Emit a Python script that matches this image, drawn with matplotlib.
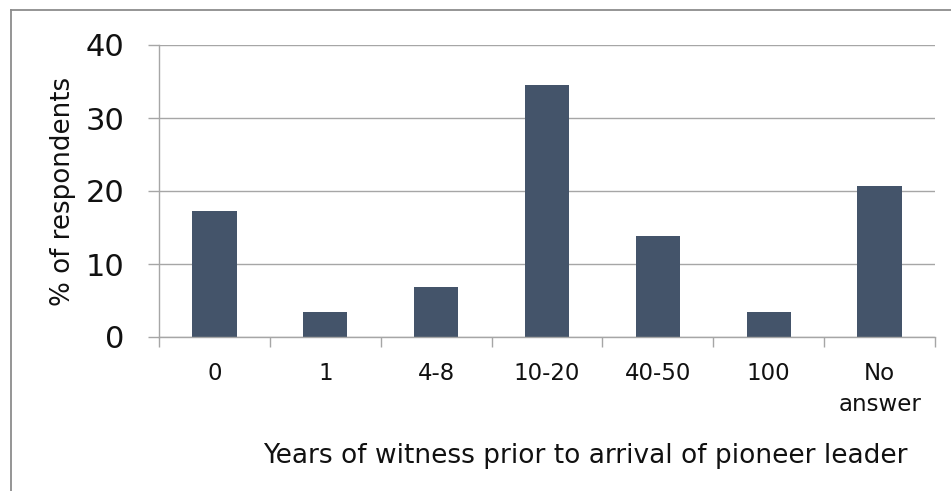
import matplotlib
matplotlib.use("Agg")
import matplotlib.pyplot as plt
from matplotlib.lines import Line2D

categories = ["0", "1", "4-8", "10-20", "40-50", "100", "No\nanswer"]
percent_respondents = [17.24, 3.45, 6.90, 34.48, 13.79, 3.45, 20.69]
y_ticks = [0, 10, 20, 30, 40]

BAR_COLOR = "#44546A"
GRID_COLOR = "#A6A6A6"
TEXT_COLOR = "#111111"

plt.rcParams["font.family"] = ["DejaVu Sans"]

W, H = 951, 491
fig = plt.figure(figsize=(W / 100, H / 100), dpi=100)
fig.patch.set_facecolor("white")

ax = fig.add_axes([159 / W, (H - 337) / H, (935 - 159) / W, 292 / H])
ax.set_facecolor("white")

x = range(len(categories))
ax.bar(x, percent_respondents, width=0.4, color=BAR_COLOR, zorder=3)

ax.set_xlim(-0.5, len(categories) - 0.5)
ax.set_ylim(0, 40)

# y axis: gridlines with outward tick marks
ax.set_yticks(y_ticks)
ax.set_yticklabels([str(v) for v in y_ticks], fontsize=22, color=TEXT_COLOR)
ax.tick_params(axis="y", length=8, width=1.0, color=GRID_COLOR, pad=17)
ax.yaxis.grid(True, color=GRID_COLOR, linewidth=1.0, zorder=0)

# x axis: tick marks between categories, labels centred under bars
ax.set_xticks([i - 0.5 for i in range(len(categories) + 1)])
ax.set_xticklabels([])
ax.tick_params(axis="x", which="major", length=7, width=1.0, color=GRID_COLOR, direction="out")
ax.set_xticks(list(x), minor=True)
ax.set_xticklabels(categories, minor=True, fontsize=16.5, color=TEXT_COLOR,
                   linespacing=1.45, va="top")
ax.tick_params(axis="x", which="minor", length=0, pad=18)

for side in ("top", "right"):
    ax.spines[side].set_visible(False)
for side in ("left", "bottom"):
    ax.spines[side].set_color(GRID_COLOR)
    ax.spines[side].set_linewidth(1.0)
ax.spines["left"].set_zorder(4)
ax.spines["bottom"].set_zorder(4)

fig.text(63 / W, 1 - 191 / H, "% of respondents", rotation=90, fontsize=18.8,
         ha="center", va="center", color=TEXT_COLOR)
fig.text(585 / W, 1 - 456 / H, "Years of witness prior to arrival of pioneer leader",
         fontsize=19, ha="center", va="center", color=TEXT_COLOR)

# outer chart frame (left and top edges)
frame_kw = dict(transform=fig.transFigure, color="#8C8C8C", linewidth=1.3)
fig.add_artist(Line2D([11 / W, 11 / W], [0, 1 - 10 / H], **frame_kw))
fig.add_artist(Line2D([11 / W, 1], [1 - 10 / H, 1 - 10 / H], **frame_kw))

fig.savefig("out.png", dpi=100, facecolor="white")
